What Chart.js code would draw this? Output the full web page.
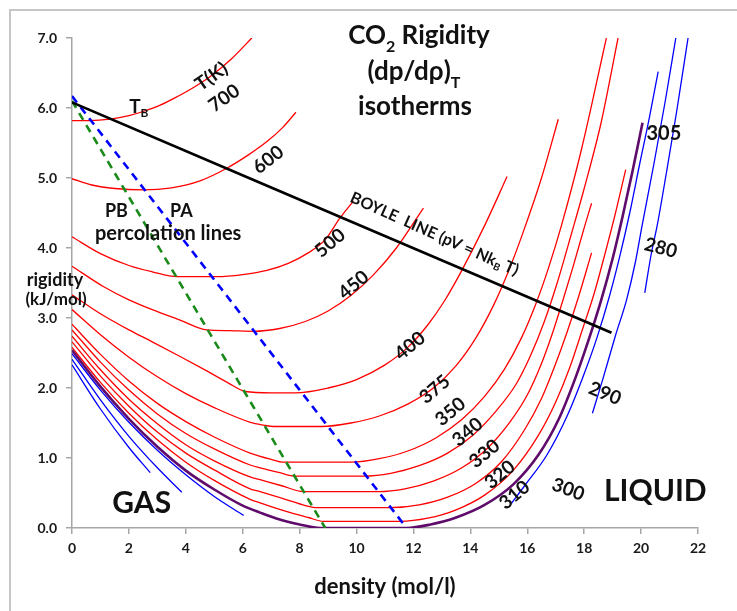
<!DOCTYPE html>
<html><head><meta charset="utf-8">
<script src="https://cdn.jsdelivr.net/npm/chart.js@4.4.1/dist/chart.umd.min.js"></script>
<style>html,body{margin:0;padding:0;background:#fff;}canvas{display:block;}</style>
</head><body>
<canvas id="c" width="737" height="611"></canvas>
<script>
// ---------- data (density mol/l , rigidity kJ/mol) ----------
const xTicks = [0,2,4,6,8,10,12,14,16,18,20,22];
const yTicks = [0,1,2,3,4,5,6,7];

const iso700 = [[0,5.82],[0.6,5.82],[1.34,5.84],[2.0,5.89],[2.5,5.95],[3.1,6.04],[3.69,6.16],[4.3,6.3],[4.86,6.45],[5.6,6.7],[6.32,7.0]];
const iso600 = [[0,4.99],[0.7,4.9],[1.5,4.85],[2.5,4.83],[3.5,4.86],[4.5,4.96],[5.44,5.14],[6.2,5.33],[6.85,5.52],[7.4,5.72],[7.87,5.94]];
const iso500 = [[0,4.16],[1.0,3.92],[2.0,3.75],[2.82,3.66],[3.69,3.59],[5.09,3.59],[6.0,3.62],[6.85,3.68],[7.6,3.78],[8.3,3.93],[8.9,4.12],[9.42,4.43],[9.89,4.67]];
const iso450 = [[0,3.74],[1.1,3.45],[2.0,3.26],[2.82,3.12],[3.8,2.97],[4.74,2.83],[5.5,2.82],[6.38,2.81],[7.3,2.85],[8.2,2.95],[9.0,3.1],[9.8,3.32],[10.6,3.62],[11.4,4.0],[12.35,4.57]];
const iso400 = [[0,3.33],[1,3.06],[2,2.83],[2.82,2.66],[3.8,2.45],[4.8,2.23],[5.5,2.07],[6.09,1.95],[7.0,1.93],[7.84,1.93],[9.0,2.0],[10.0,2.12],[11.0,2.33],[11.8,2.58],[12.5,2.9],[13.1,3.25],[13.7,3.68],[14.5,4.32],[15.29,5.02]];
const iso375 = [[0,3.12],[1,2.76],[2,2.44],[3,2.16],[4,1.92],[5,1.72],[6.27,1.51],[6.73,1.47],[7.08,1.45],[8.78,1.45],[9.8,1.5],[10.8,1.6],[11.8,1.77],[12.7,2.0],[13.5,2.32],[14.2,2.72],[14.8,3.17],[15.35,3.68],[15.85,4.22],[16.5,5.0],[17.09,5.84]];
const iso350 = [[0,2.91],[1,2.48],[2,2.1],[3,1.78],[4,1.52],[5,1.3],[6.26,1.07],[7.0,0.98],[7.43,0.94],[9.83,0.94],[10.8,0.99],[11.8,1.1],[12.8,1.29],[13.7,1.55],[14.5,1.88],[15.2,2.27],[15.8,2.72],[16.3,3.2],[16.75,3.72],[17.2,4.32],[17.9,5.4],[18.78,7.0]];
const iso340 = [[0,2.83],[1,2.37],[2,1.97],[3,1.63],[4,1.35],[5,1.13],[6.26,0.9],[6.61,0.86],[7.3,0.79],[7.84,0.74],[10.24,0.74],[11.2,0.78],[12.2,0.89],[13.2,1.07],[14.1,1.33],[14.9,1.67],[15.6,2.05],[16.1,2.45],[16.6,2.95],[17.05,3.5],[17.55,4.2],[18.0,4.85],[18.6,5.8],[19.19,7.0]];
const iso330 = [[0,2.74],[1,2.26],[2,1.84],[3,1.49],[4,1.19],[5,0.96],[6.26,0.73],[6.61,0.69],[7.4,0.6],[8.13,0.52],[10.77,0.52],[11.7,0.56],[12.7,0.67],[13.7,0.86],[14.6,1.14],[15.4,1.52],[16.0,1.9],[16.5,2.35],[16.9,2.8],[17.25,3.25],[17.6,3.72],[18.03,4.33],[18.26,4.64]];
const iso320 = [[0,2.66],[1,2.17],[2,1.74],[3,1.37],[4,1.07],[5,0.83],[6.26,0.56],[6.61,0.52],[7.5,0.41],[8.2,0.32],[8.54,0.29],[11.18,0.29],[12.2,0.33],[13.2,0.44],[14.2,0.64],[15.1,0.95],[15.9,1.4],[16.5,1.85],[17.0,2.35],[17.4,2.8],[17.8,3.3],[18.26,3.93]];
const iso310 = [[0,2.58],[1,2.08],[2,1.64],[3,1.26],[4,0.94],[5,0.68],[6.26,0.41],[6.61,0.36],[7.5,0.24],[8.3,0.15],[8.84,0.095],[11.53,0.095],[12.5,0.14],[13.5,0.26],[14.5,0.47],[15.5,0.82],[16.4,1.33],[17.0,1.8],[17.5,2.3],[17.95,2.85],[18.35,3.35],[18.72,3.9],[19.1,4.5],[19.46,5.12]];
const iso305 = [[0,2.54],[1,2.02],[2,1.56],[3,1.16],[4,0.82],[5,0.55],[6,0.32],[6.61,0.22],[7.3,0.12],[8.0,0.05],[8.72,0.0],[11.76,0.0],[12.6,0.05],[13.5,0.15],[14.5,0.33],[15.5,0.62],[16.4,1.05],[17.1,1.55],[17.67,2.12],[18.15,2.68],[18.6,3.26],[19.0,3.85],[19.35,4.45],[19.7,5.1],[20.05,5.79]];
const iso300gas = [[0,2.49],[1,1.97],[2,1.51],[3,1.11],[4,0.76],[5,0.45],[6.03,0.18]];
const iso290gas = [[0,2.41],[1,1.83],[2,1.31],[3,0.86],[3.86,0.51]];
const iso280gas = [[0,2.33],[1,1.7],[2,1.15],[2.75,0.79]];
const iso300liq = [[15.44,0.35],[15.9,0.6],[16.7,1.05],[17.4,1.6],[17.95,2.15],[18.45,2.72],[18.88,3.3],[19.25,3.88],[19.6,4.5],[19.95,5.2],[20.3,5.88],[20.6,6.52]];
const iso290liq = [[18.29,1.64],[18.65,2.12],[19.1,2.75],[19.49,3.26],[19.8,3.8],[20.04,4.33],[20.45,5.2],[20.85,6.1],[21.22,7.0]];
const iso280liq = [[20.13,3.36],[20.35,3.9],[20.57,4.33],[20.9,5.1],[21.25,5.95],[21.65,7.0]];
const boyleLine = [[0,6.08],[18.96,2.79]];
const percPA = [[0,6.17],[11.76,0]];
const percPB = [[0,6.1],[8.9,0]];

// ---------- styling ----------
const RED = '#ff0000', BLUE = '#0000ff', PURPLE = '#5e0b6b', GREEN = '#1a8a1a';
const FONT = 'Lato, "Open Sans", sans-serif';

function ds(points, color, width, dash, order) {
  return {
    data: points.map(p => ({x: p[0], y: p[1]})),
    showLine: true, borderColor: color, borderWidth: width, borderDash: dash || [],
    pointRadius: 0, pointHoverRadius: 0, fill: false,
    cubicInterpolationMode: 'monotone', order: order || 0
  };
}

const datasets = [
  ds(boyleLine, '#000000', 2.7, null, -3),
  ds(percPA, BLUE, 2.6, [8, 6], -2),
  ds(percPB, GREEN, 2.6, [8, 6], -2),
  ds(iso305, PURPLE, 2.6, null, -1),
  ds(iso700, RED, 1.3), ds(iso600, RED, 1.3), ds(iso500, RED, 1.3), ds(iso450, RED, 1.3),
  ds(iso400, RED, 1.3), ds(iso375, RED, 1.3), ds(iso350, RED, 1.3), ds(iso340, RED, 1.3),
  ds(iso330, RED, 1.3), ds(iso320, RED, 1.3), ds(iso310, RED, 1.3),
  ds(iso300gas, BLUE, 1.3), ds(iso290gas, BLUE, 1.3), ds(iso280gas, BLUE, 1.3),
  ds(iso300liq, BLUE, 1.3), ds(iso290liq, BLUE, 1.3), ds(iso280liq, BLUE, 1.3)
];

// text annotations (data coordinates, rotation in degrees)
const notes = [
  {p:[['T(K)']], x:4.9, y:6.45, r:-35, s:19},
  {p:[['700']], x:5.35, y:6.14, r:-35, s:19},
  {p:[['600']], x:6.9, y:5.26, r:-38, s:19},
  {p:[['500']], x:9.07, y:4.07, r:-40, s:19},
  {p:[['450']], x:9.9, y:3.47, r:-40, s:19},
  {p:[['400']], x:11.88, y:2.6, r:-40, s:19},
  {p:[['375']], x:12.75, y:1.98, r:-40, s:19},
  {p:[['350']], x:13.3, y:1.66, r:-40, s:19},
  {p:[['340']], x:13.9, y:1.37, r:-40, s:19},
  {p:[['330']], x:14.5, y:1.06, r:-40, s:19},
  {p:[['320']], x:15.04, y:0.76, r:-40, s:19},
  {p:[['310']], x:15.55, y:0.47, r:-40, s:19},
  {p:[['300']], x:17.44, y:0.55, r:20, s:19},
  {p:[['290']], x:18.73, y:1.92, r:22, s:19},
  {p:[['280']], x:20.69, y:4.0, r:15, s:19},
  {p:[['305']], x:20.8, y:5.64, r:0, s:20},
  {p:[['BOYLE  LINE (pV = Nk'],['B',1],[' T)']], x:12.74, y:4.2, r:24, s:16},
  {p:[['PB']], x:1.56, y:4.53, r:0, s:18},
  {p:[['PA']], x:3.84, y:4.53, r:0, s:18},
  {p:[['percolation lines']], x:3.38, y:4.2, r:0, s:20},
  {p:[['T'],['B',1]], x:2.35, y:6.02, r:0, s:19},
  {p:[['GAS']], x:2.45, y:0.35, r:0, s:30},
  {p:[['LIQUID']], x:20.5, y:0.53, r:0, s:30}
];

function drawParts(ctx, parts, size) {
  const widths = parts.map(pt => {
    ctx.font = 'bold ' + (pt[1] ? Math.round(size * 0.62) : size) + 'px ' + FONT;
    return ctx.measureText(pt[0]).width;
  });
  const total = widths.reduce((a, b) => a + b, 0);
  let x = -total / 2;
  parts.forEach((pt, i) => {
    ctx.font = 'bold ' + (pt[1] ? Math.round(size * 0.62) : size) + 'px ' + FONT;
    ctx.fillText(pt[0], x, pt[1] ? size * 0.32 : 0);
    x += widths[i];
  });
}

const annotPlugin = {
  id: 'annot',
  beforeDraw(chart) {
    const ctx = chart.ctx;
    ctx.save();
    ctx.fillStyle = '#fff';
    ctx.fillRect(0, 0, chart.width, chart.height);
    ctx.strokeStyle = '#c6c6c6';
    ctx.lineWidth = 2;
    ctx.strokeRect(10, 10, 760, 700);
    ctx.restore();
  },
  afterDraw(chart) {
    const ctx = chart.ctx, xs = chart.scales.x, ys = chart.scales.y;
    ctx.save();
    ctx.fillStyle = '#111';
    ctx.textAlign = 'left';
    ctx.textBaseline = 'middle';
    notes.forEach(n => {
      ctx.save();
      ctx.translate(xs.getPixelForValue(n.x), ys.getPixelForValue(n.y));
      ctx.rotate(n.r * Math.PI / 180);
      drawParts(ctx, n.p, n.s);
      ctx.restore();
    });
    // title
    ctx.textBaseline = 'alphabetic';
    const tl = [[[['CO'],['2',1],[' Rigidity']], 419, 44], [[['(dp/d\u03C1)'],['T',1]], 414, 80], [[['isotherms']], 415, 115]];
    tl.forEach(t => { ctx.save(); ctx.translate(t[1], t[2]); drawParts(ctx, t[0], 26); ctx.restore(); });
    // axis titles
    ctx.textAlign = 'center';
    ctx.font = 'bold 18px ' + FONT;
    ctx.fillText('rigidity', 55, 286);
    ctx.font = 'bold 17px ' + FONT;
    ctx.fillText('(kJ/mol)', 56, 305);
    ctx.font = 'bold 22px ' + FONT;
    ctx.fillText('density (mol/l)', (xs.left + xs.right) / 2, 594);
    ctx.restore();
  }
};

new Chart(document.getElementById('c'), {
  type: 'scatter',
  data: { datasets },
  plugins: [annotPlugin],
  options: {
    responsive: false, animation: false, devicePixelRatio: 1,
    layout: { padding: { left: 0, top: 38, right: 39, bottom: 0 } },
    plugins: { legend: { display: false }, tooltip: { enabled: false } },
    scales: {
      x: {
        type: 'linear', min: 0, max: 22,
        afterBuildTicks: s => { s.ticks = xTicks.map(v => ({value: v})); },
        afterFit: s => { s.height = 83; },
        ticks: { font: { family: FONT, size: 14, weight: 'bold' }, color: '#1a1a1a', padding: 6, autoSkip: false, maxRotation: 0 },
        grid: { display: true, drawOnChartArea: false, drawTicks: true, tickLength: 6, color: '#a6a6a6', lineWidth: 1.5 },
        border: { display: true, color: '#a6a6a6', width: 1.5 }
      },
      y: {
        type: 'linear', min: 0, max: 7,
        afterBuildTicks: s => { s.ticks = yTicks.map(v => ({value: v})); },
        afterFit: s => { s.width = 72; },
        ticks: { font: { family: FONT, size: 14, weight: 'bold' }, color: '#1a1a1a', padding: 9, callback: v => Number(v).toFixed(1) },
        grid: { display: true, drawOnChartArea: false, drawTicks: true, tickLength: 6, color: '#a6a6a6', lineWidth: 1.5 },
        border: { display: true, color: '#a6a6a6', width: 1.5 }
      }
    }
  }
});
</script>
</body></html>
